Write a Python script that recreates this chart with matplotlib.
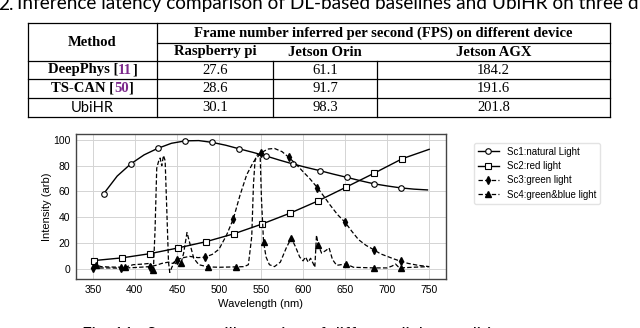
import matplotlib
matplotlib.use("Agg")
import matplotlib.pyplot as plt

# ---- table data ----
methods = ["DeepPhys", "TS-CAN", "UbiHR"]
method_refs = ["11", "50", None]
devices = ["Raspberry pi", "Jetson Orin", "Jetson AGX"]
fps = [[27.6, 61.1, 184.2],
       [28.6, 91.7, 191.6],
       [30.1, 98.3, 201.8]]

# ---- spectra ----
sc1_wl = [363, 379, 395, 411, 427, 443.5, 460, 476, 492, 508, 524, 540, 556,
          572, 588, 604, 620, 636, 652, 668, 684, 700, 716, 732, 748]
sc1_val = [58.3, 72.0, 81.4, 88.5, 93.5, 97.5, 99.4, 99.6, 98.2, 96.0, 93.2, 90.5, 87.6,
           84.4, 81.4, 78.7, 76.2, 73.5, 71.0, 68.4, 66.0, 64.3, 62.8, 61.8, 61.2]

sc2_wl = [351, 384.5, 418, 451, 484.5, 518, 551, 584.5, 618, 651, 684.5, 718, 750]
sc2_val = [6.2, 8.3, 11.6, 16.0, 20.9, 27.1, 34.6, 43.1, 52.7, 63.3, 74.2, 85.5, 92.8]

sc3_wl = [350, 365, 384, 400, 418, 425, 432, 440, 445, 450, 458, 465, 475, 483,
          492, 500, 509, 517, 525, 533, 541, 550, 558, 566, 575, 583, 592, 600,
          608, 617, 625, 632, 641, 650, 658, 666, 675, 684, 692, 700, 708, 716,
          725, 737, 750]
sc3_val = [0.3, 0.5, 0.3, 0.8, 1.5, 2.5, 4.0, 5.0, 4.0, 7.0, 8.5, 9.5, 8.5, 8.8,
           11.0, 15.0, 26.0, 38.5, 57.0, 73.0, 83.0, 90.0, 93.0, 93.5, 91.0, 86.6, 81.0, 75.4,
           70.0, 63.0, 56.0, 49.6, 42.0, 36.0, 29.0, 22.5, 18.0, 14.7, 11.5, 9.5, 7.5, 5.7,
           4.0, 2.5, 1.5]
sc3_marks = [350, 384, 418, 450, 483, 517, 550, 583, 617, 650, 684, 716]

sc4_wl = [350, 354, 360, 370, 388, 398, 410, 417, 419.5, 422, 424, 426, 428, 430,
          432, 434, 436, 438, 440, 441.5, 444, 447, 450, 452, 455, 458, 462, 466,
          470, 476, 487, 500, 520, 530, 535, 539, 541, 543, 546, 549, 550.5, 553,
          556, 560, 566, 573, 580, 586, 591, 596, 600, 603, 606, 609, 612, 614,
          616, 618, 622, 627, 631, 635, 640, 651, 660, 684, 700, 706, 710, 713,
          716, 730, 750]
sc4_val = [0.5, 2.6, 1.5, 1.2, 1.0, 3.0, 3.5, 4.0, 3.0, -1.5, 30.0, 78.0, 83.0, 86.0,
           80.0, 88.0, 84.0, 45.0, 5.0, -3.0, 1.0, 5.0, 3.0, 6.0, 4.4, 12.0, 28.0, 18.0,
           8.0, 3.0, 1.3, 1.0, 1.3, 1.5, 3.0, 25.0, 65.0, 85.0, 89.0, 88.0, 55.0, 21.0,
           9.0, 3.0, 1.5, 5.0, 16.0, 23.8, 17.0, 9.0, 6.0, 9.0, 5.0, 8.0, 4.0, 1.0,
           26.0, 18.6, 12.0, 14.0, 16.0, 7.0, 2.5, 3.6, 1.0, 0.5, 0.5, 2.0, 3.5, 1.5,
           0.5, 1.0, 1.5]
sc4_marks = [354, 388, 422, 455, 487, 520, 553, 586, 618, 651, 684, 716]

labels = ["Sc1:natural Light", "Sc2:red light", "Sc3:green light", "Sc4:green&blue light"]

W, H = 640, 328
fig = plt.figure(figsize=(W / 100, H / 100), dpi=100)

# full-figure layer in pixel units for the table and captions
lay = fig.add_axes([0, 0, 1, 1])
lay.set_xlim(0, W)
lay.set_ylim(H, 0)
lay.axis("off")

cap_font = "Lato"
serif = "Liberation Serif"
purple = "#7d2a8c"

lay.text(-2, 9.5, "2.", fontsize=13.7, family=cap_font, va="baseline", ha="left")
lay.text(17, 9.5, "Inference latency comparison of DL-based baselines and UbiHR on three different devices.",
         fontsize=13.7, family=cap_font, va="baseline", ha="left")

# table grid
x_left, x_right = 28, 610
x_cols = [157, 273, 377]
y_top, y_mid, y_head, y_bot = 23, 43, 61, 117
y_rows = [61, 79, 98, 117]
lw = 0.9
for y in [y_top, y_head, 79, 98, y_bot]:
    lay.plot([x_left, x_right], [y, y], color="k", lw=lw)
lay.plot([x_cols[0], x_right], [y_mid, y_mid], color="k", lw=lw)
for x in [x_left, x_cols[0], x_right]:
    lay.plot([x, x], [y_top, y_bot], color="k", lw=lw)
for x in x_cols[1:]:
    lay.plot([x, x], [y_head, y_bot], color="k", lw=lw)

tfs = 10.5
col_centers = [(x_cols[0] + x_cols[1]) / 2, (x_cols[1] + x_cols[2]) / 2, (x_cols[2] + x_right) / 2]
lay.text((x_left + x_cols[0]) / 2, (y_top + y_head) / 2, "Method", fontsize=tfs,
         family=serif, weight="bold", ha="center", va="center")
lay.text((x_cols[0] + x_right) / 2, (y_top + y_mid) / 2,
         "Frame number inferred per second (FPS) on different device",
         fontsize=tfs, family=serif, weight="bold", ha="center", va="center")
for cx, dev in zip(col_centers, devices):
    lay.text(cx, (y_mid + y_head) / 2, dev, fontsize=tfs, family=serif,
             weight="bold", ha="center", va="center")

renderer = fig.canvas.get_renderer()
for i, (name, ref, vals) in enumerate(zip(methods, method_refs, fps)):
    cy = (y_rows[i] + y_rows[i + 1]) / 2
    mx = (x_left + x_cols[0]) / 2
    if ref is None:
        lay.text(mx, cy, name, fontsize=tfs, family=cap_font, ha="center", va="center")
    else:
        kw = dict(fontsize=tfs, family=serif, weight="bold", va="center")
        full = lay.text(0, cy, f"{name} [{ref}]", alpha=0, **kw)
        w_full = full.get_window_extent(renderer).width
        w1 = lay.text(0, cy, f"{name} [", alpha=0, **kw).get_window_extent(renderer).width
        w2 = lay.text(0, cy, f"{ref}", alpha=0, **kw).get_window_extent(renderer).width
        x0 = mx - w_full / 2
        lay.text(x0, cy, f"{name} [", ha="left", **kw)
        lay.text(x0 + w1, cy, ref, ha="left", color=purple, **kw)
        lay.text(x0 + w1 + w2, cy, "]", ha="left", **kw)
    for cx, v in zip(col_centers, vals):
        lay.text(cx, cy, f"{v:.1f}", fontsize=tfs, family=serif, ha="center", va="center")

lay.text(300, 327, "Fig. 11.  Spectrum illustration of different light conditions",
         fontsize=12.5, family=cap_font, ha="center", va="top")

# ---- spectrum chart ----
plt.rcParams["font.family"] = ["Liberation Sans", "DejaVu Sans"]
ax = fig.add_axes([76 / W, 1 - 279 / H, 370 / W, 145 / H])
dash = (0, (3.5, 1.8))
ax.plot(sc1_wl, sc1_val, color="k", lw=1, marker="o", ms=4, mfc="white", mec="k",
        mew=0.8, markevery=slice(0, -1, 2), label=labels[0])
ax.plot(sc2_wl, sc2_val, color="k", lw=1, marker="s", ms=4, mfc="white", mec="k",
        mew=0.8, markevery=slice(0, -1), label=labels[1])
ax.plot(sc3_wl, sc3_val, color="k", lw=0.9, ls=dash, marker="d", ms=4, mfc="k", mec="k",
        markevery=[sc3_wl.index(m) for m in sc3_marks], label=labels[2])
ax.plot(sc4_wl, sc4_val, color="k", lw=0.9, ls=dash, marker="^", ms=4, mfc="k", mec="k",
        markevery=[sc4_wl.index(m) for m in sc4_marks], label=labels[3])

ax.set_xticks(range(350, 751, 50))
ax.set_yticks(range(0, 101, 20))
ax.grid(True, color="#d4d4d4", lw=0.7)
ax.set_axisbelow(True)
for s in ax.spines.values():
    s.set_color("#444444")
    s.set_linewidth(1.0)
ax.tick_params(length=0, labelsize=7.5, pad=4)
ax.set_xlabel("Wavelength (nm)", fontsize=8, labelpad=3)
ax.set_ylabel("Intensity (arb)", fontsize=8, labelpad=1)

fig.legend(loc="upper left", bbox_to_anchor=(469 / W, 1 - 138 / H), fontsize=7,
           frameon=True, edgecolor="#dddddd", fancybox=True, borderpad=0.4,
           labelspacing=0.45, handlelength=2.2)

fig.savefig("out.png", dpi=100)
